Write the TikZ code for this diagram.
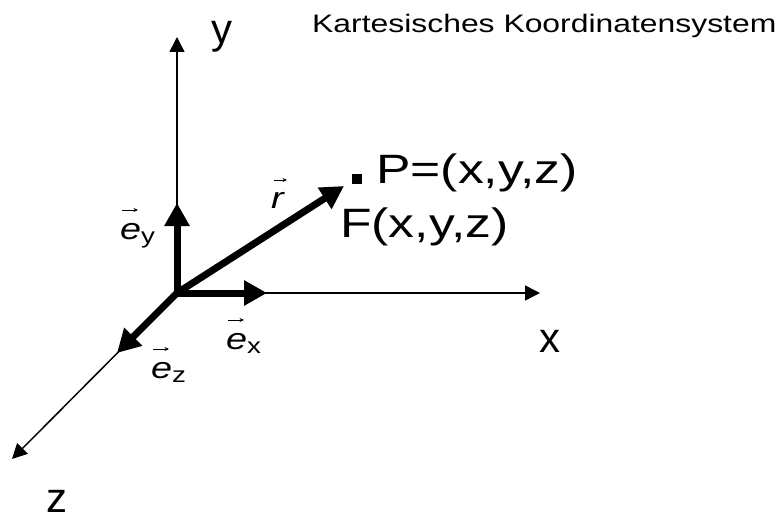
\documentclass[tikz,border=0pt]{standalone}
\usepackage{fontspec}
\setmainfont{Liberation Sans}
\newfontfamily\wf[FakeStretch=1.26]{Liberation Sans}
\usetikzlibrary{arrows.meta}
\begin{document}
\begin{tikzpicture}[x=1pt,y=-1pt,
 axis/.style={line width=1.5pt,-{Triangle[length=15pt,width=15pt]}},
 vecthick/.style={line width=7pt,-{Triangle[length=23pt,width=24pt]}},
 vecarr/.style={line width=0.9pt,-{Stealth[length=4.5pt,width=4pt]}},
 lbl/.style={inner sep=0pt,anchor=base west},
 axlbl/.style={lbl,font=\fontsize{42}{42}\selectfont},
 vlbl/.style={lbl,font=\fontsize{30}{30}\selectfont\wf\itshape},
 big/.style={lbl,font=\fontsize{41}{41}\selectfont\wf},
]
\useasboundingbox (0,0) rectangle (780,519);
\coordinate (O) at (177,293);
\coordinate (Ytip) at (177,37);
\coordinate (Xtip) at (540,293);
\coordinate (Ztip) at (12,459);
\coordinate (EYtip) at (177,203);
\coordinate (EXtip) at (267,293);
\coordinate (EZtip) at (117,353);
\node[fill,inner sep=0pt,minimum size=10pt] (Pt) at (357,179) {};
\coordinate (Rtip) at (344,186);

% axes
\draw[axis] (O) -- (Ytip);
\draw[axis] (O) -- (Xtip);
\draw[axis] (O) -- (Ztip);

% thick vectors
\draw[vecthick] (O) -- (EYtip);
\draw[vecthick] (O) -- (EXtip);
\draw[vecthick] (O) -- (EZtip);
\draw[vecthick] (O) -- (Rtip);

% axis labels
\node[axlbl] (ylab) at (211,44) {y};
\node[axlbl] (xlab) at (539,352) {x};
\node[axlbl] (zlab) at (46,512) {z};

% title
\node[lbl,font=\fontsize{25.3}{25.3}\selectfont\wf] (title) at (312,33) {Kartesisches Koordinatensystem};

% point labels
\node[big] (plab) at (376,183) {P=(x,y,z)};
\node[big] (flab) at (340,237) {F(x,y,z)};

% vector labels
\node[vlbl] (ey) at (120,239) {e\raisebox{-4pt}{\normalfont\wf\fontsize{22}{22}\selectfont y}};
\node[vlbl] (ex) at (226,349) {e\raisebox{-4pt}{\normalfont\wf\fontsize{22}{22}\selectfont x}};
\node[vlbl] (ez) at (151,378) {e\raisebox{-4pt}{\normalfont\wf\fontsize{22}{22}\selectfont z}};
\node[vlbl] (rl) at (271,208) {r};

\draw[vecarr] ([xshift=2pt,yshift=29pt]ey.base west) -- ++(16,0);
\draw[vecarr] ([xshift=2pt,yshift=29pt]ex.base west) -- ++(16,0);
\draw[vecarr] ([xshift=2pt,yshift=29pt]ez.base west) -- ++(16,0);
\draw[vecarr] ([xshift=3pt,yshift=28pt]rl.base west) -- ++(13,0);
\end{tikzpicture}
\end{document}
